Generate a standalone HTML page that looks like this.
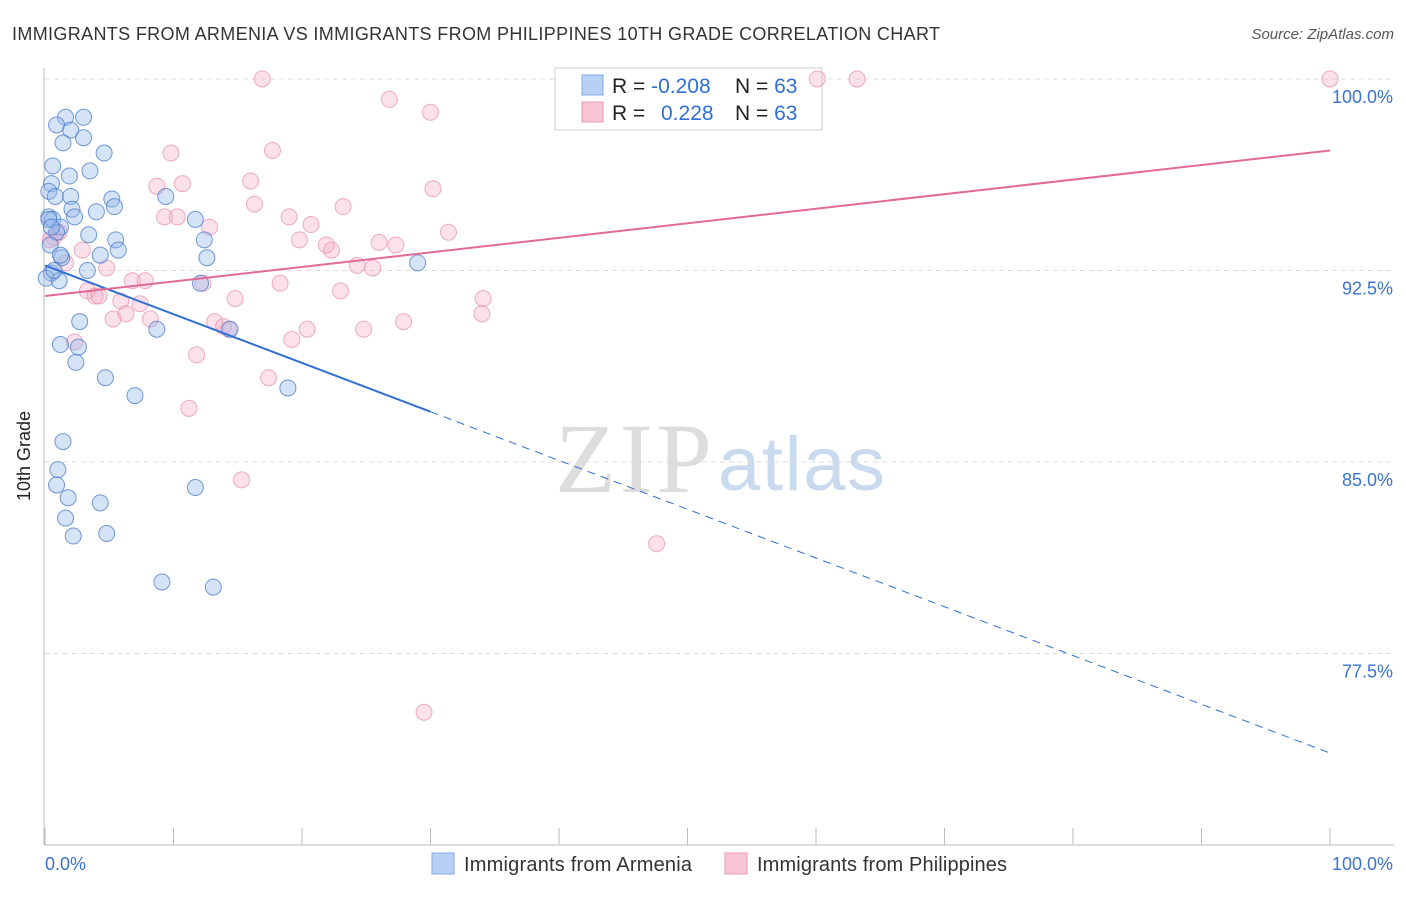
<!DOCTYPE html>
<html><head><meta charset="utf-8"><style>
body{margin:0;background:#fff;font-family:"Liberation Sans",sans-serif;}
svg text{font-family:"Liberation Sans",sans-serif;}
</style></head><body>
<svg id="c" width="1406" height="892" xmlns="http://www.w3.org/2000/svg">
<text x="12" y="40" font-size="18" fill="#333" textLength="928">IMMIGRANTS FROM ARMENIA VS IMMIGRANTS FROM PHILIPPINES 10TH GRADE CORRELATION CHART</text>
<text x="1394" y="39" font-size="15" fill="#555" font-style="italic" text-anchor="end">Source: ZipAtlas.com</text>
<text x="30" y="456" font-size="18" fill="#222" text-anchor="middle" transform="rotate(-90 30 456)">10th Grade</text>
<text x="555" y="492" font-size="100" fill="#ddd" textLength="157" style="font-family:'Liberation Serif',serif">ZIP</text>
<text x="718" y="490" font-size="76" fill="#c9d9ee" textLength="167">atlas</text>
<g id="grid"></g><g id="axes"></g>
<g>
<rect x="555" y="68" width="267" height="62" fill="#fff" stroke="#ccc"/>
<rect x="582" y="75" width="21" height="20" fill="#b8d0f4" stroke="#7fa8e0"/>
<text x="612" y="93" font-size="21" fill="#222">R = <tspan fill="#2f6fd4">-0.208</tspan></text>
<text x="735" y="93" font-size="21" fill="#222">N = <tspan fill="#2f6fd4">63</tspan></text>
<rect x="582" y="102" width="21" height="20" fill="#f9c5d4" stroke="#ec9ab3"/>
<text x="612" y="120" font-size="21" fill="#222">R = </text>
<text x="661" y="120" font-size="21" fill="#2f6fd4">0.228</text>
<text x="735" y="120" font-size="21" fill="#222">N = <tspan fill="#2f6fd4">63</tspan></text>
</g>
<g id="marks"></g>
<g>
<rect x="432" y="853" width="22" height="21" fill="#b8d0f4" stroke="#7fa8e0"/>
<text x="464" y="871" font-size="20" fill="#333" textLength="228">Immigrants from Armenia</text>
<rect x="725" y="853" width="22" height="21" fill="#f9c5d4" stroke="#ec9ab3"/>
<text x="757" y="871" font-size="20" fill="#333" textLength="250">Immigrants from Philippines</text>
</g>
</svg>
<script>
const blueX=[1.6,3.0,0.9,2.0,3.0,1.4,4.6,0.6,3.5,1.9,0.5,0.3,0.8,2.0,5.2,9.4,5.4,2.1,4.0,0.3,2.3,0.6,11.7,1.2,0.9,3.4,5.5,12.4,0.4,5.7,4.3,12.6,1.3,29.0,3.3,0.5,0.1,1.1,12.1,2.7,8.7,14.4,1.2,2.6,2.4,4.7,7.0,18.9,1.4,1.0,0.9,11.7,1.8,4.3,1.6,2.2,4.8,9.1,13.1,0.3,0.5,0.7,1.2];
const blueY=[98.5,98.5,98.2,98.0,97.7,97.5,97.1,96.6,96.4,96.2,95.9,95.6,95.4,95.4,95.3,95.4,95.0,94.9,94.8,94.6,94.6,94.5,94.5,94.2,94.0,93.9,93.7,93.7,93.5,93.3,93.1,93.0,93.0,92.8,92.5,92.4,92.2,92.1,92.0,90.5,90.2,90.2,89.6,89.5,88.9,88.3,87.6,87.9,85.8,84.7,84.1,84.0,83.6,83.4,82.8,82.1,82.2,80.3,80.1,94.5,94.2,92.5,93.1];
const pinkX=[16.9,60.1,63.2,100,26.8,30.0,9.8,17.7,8.7,10.7,16.0,30.2,16.3,23.2,9.3,10.3,19.0,20.7,12.8,1.1,31.4,0.7,19.8,21.9,26.0,27.3,22.3,2.9,1.6,24.3,25.5,4.8,6.8,7.8,12.3,18.3,3.3,23.0,3.9,4.2,5.9,14.8,34.1,7.4,6.3,5.3,34.0,8.2,13.2,13.9,14.3,27.9,20.4,24.8,19.2,2.3,11.8,17.4,11.2,15.3,47.6,29.5,0.4];
const pinkY=[100,100,100,100,99.2,98.7,97.1,97.2,95.8,95.9,96.0,95.7,95.1,95.0,94.6,94.6,94.6,94.3,94.2,94.0,94.0,93.8,93.7,93.5,93.6,93.5,93.3,93.3,92.8,92.7,92.6,92.6,92.1,92.1,92.0,92.0,91.7,91.7,91.5,91.5,91.3,91.4,91.4,91.2,90.8,90.6,90.8,90.6,90.5,90.3,90.2,90.5,90.2,90.2,89.8,89.7,89.2,88.3,87.1,84.3,81.8,75.2,93.7];
const yTicks=[100,92.5,85,77.5];
const yTickLabels=["100.0%","92.5%","85.0%","77.5%"];
const blueLine=[92.7,73.6];
const pinkLine=[91.5,97.2];
const blueSolidEnd=30;
const NS="http://www.w3.org/2000/svg";
const X=v=>45+v*12.85;
const Y=v=>79+(100-v)*191.5/7.5;
function mk(t,a,p){const e=document.createElementNS(NS,t);for(const k in a)e.setAttribute(k,a[k]);document.getElementById(p).appendChild(e);return e;}
yTicks.forEach((t,i)=>{
 const g=mk('line',{x1:45,x2:1394,y1:Y(t),y2:Y(t),stroke:'#ddd','stroke-dasharray':'5,4'},'grid');
 
 
 const l=mk('text',{x:1393,y:Y(t)+24,'font-size':18,fill:'#3a72cc','text-anchor':'end'},'axes');
 l.textContent=yTickLabels[i];
 
 
});
mk('line',{x1:44,x2:44,y1:68,y2:845,stroke:'#bbb'},'axes');
mk('line',{x1:44,x2:1394,y1:845,y2:845,stroke:'#bbb'},'axes');
for(let i=0;i<=10;i++){const t=mk('line',{x1:X(i*10),x2:X(i*10),y1:828,y2:845,stroke:'#bbb'},'axes');}
const x0=mk('text',{x:45,y:870,'font-size':18,fill:'#3a72cc'},'axes');x0.textContent='0.0%';

const x1=mk('text',{x:1393,y:870,'font-size':18,fill:'#3a72cc','text-anchor':'end'},'axes');x1.textContent='100.0%';

pinkX.forEach((v,i)=>{const c=mk('circle',{cx:X(v),cy:Y(pinkY[i]),r:8,fill:'rgba(246,170,195,0.35)',stroke:'rgba(230,140,170,0.7)'},'marks');
});
blueX.forEach((v,i)=>{const c=mk('circle',{cx:X(v),cy:Y(blueY[i]),r:8,fill:'rgba(150,185,235,0.4)',stroke:'rgba(70,120,200,0.75)'},'marks');
});
const by=x=>blueLine[0]+(blueLine[1]-blueLine[0])*x/100;
const b1=mk('line',{x1:X(0),y1:Y(by(0)),x2:X(blueSolidEnd),y2:Y(by(blueSolidEnd)),stroke:'#2f6fd4','stroke-width':2},'marks');

const b2=mk('line',{x1:X(blueSolidEnd),y1:Y(by(blueSolidEnd)),x2:X(100),y2:Y(by(100)),stroke:'#2f6fd4','stroke-width':1,'stroke-dasharray':'8,6'},'marks');

const p1=mk('line',{x1:X(0),y1:Y(pinkLine[0]),x2:X(100),y2:Y(pinkLine[1]),stroke:'#e26a96','stroke-width':2},'marks');

</script>
</body></html>
